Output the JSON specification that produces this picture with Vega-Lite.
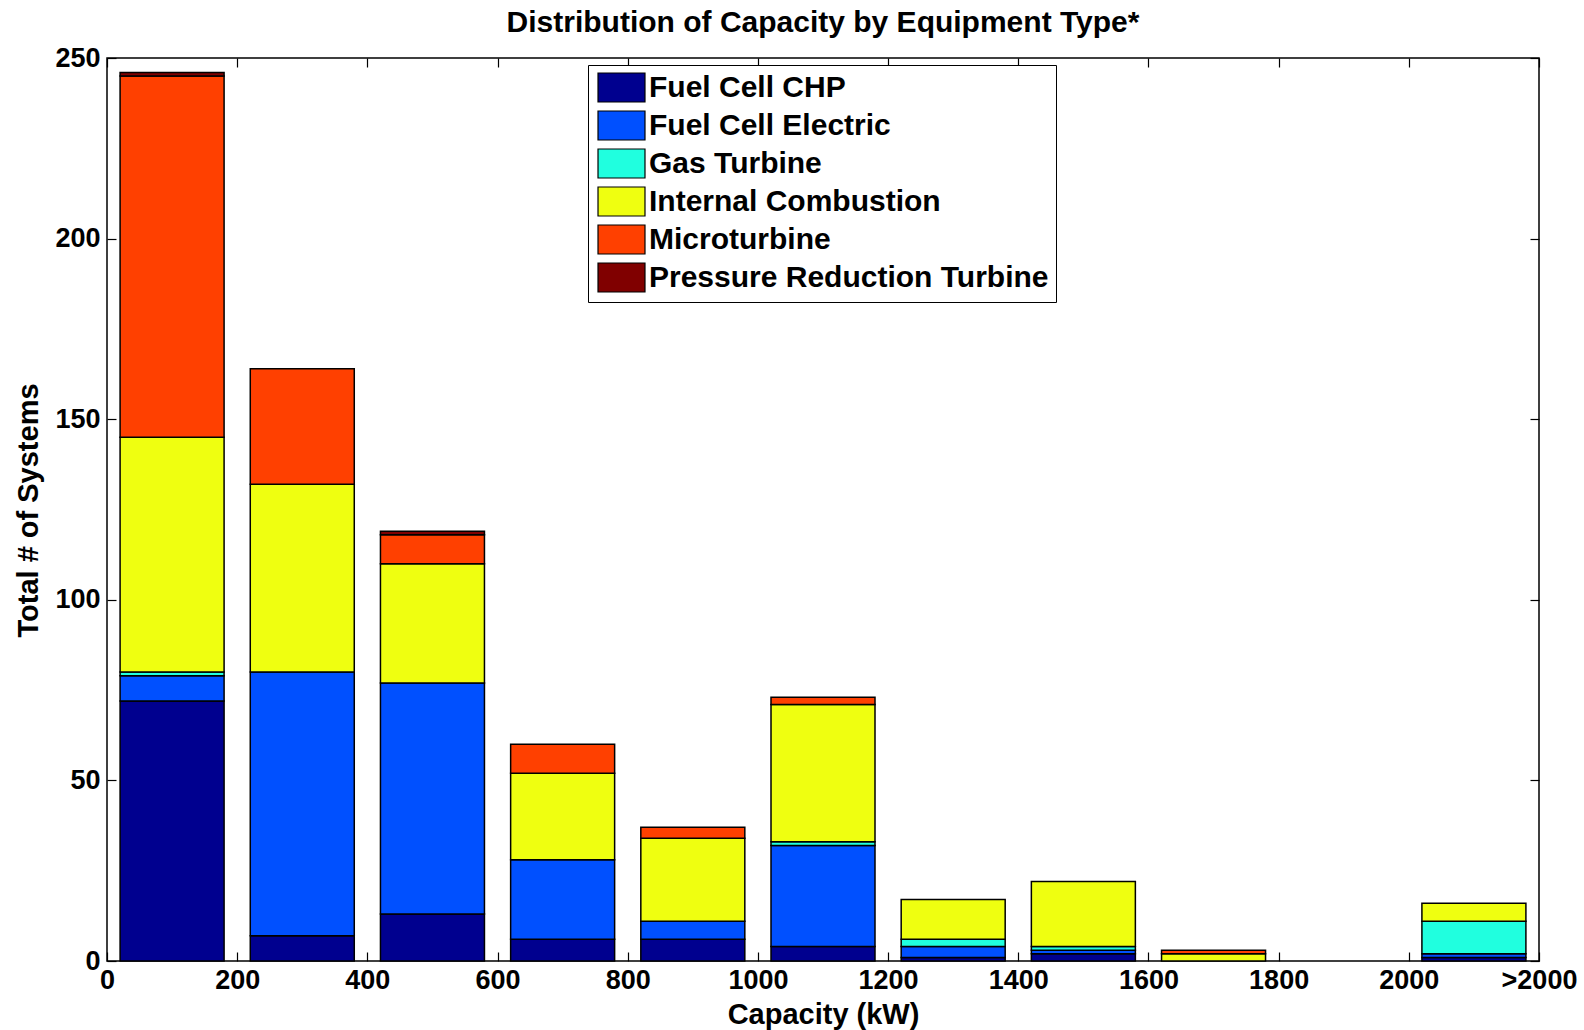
{
  "$schema": "https://vega.github.io/schema/vega-lite/v6.json",
  "width": 1432,
  "height": 903,
  "autosize": {"type": "none"},
  "padding": {"left": 107, "top": 58, "right": 45, "bottom": 69},
  "background": "white",
  "title": {"text": "Distribution of Capacity by Equipment Type*", "anchor": "middle", "offset": -18, "baseline": "alphabetic", "fontSize": 30, "font": "Liberation Sans", "fontWeight": "bold", "color": "black"},
  "config": {
    "view": {"stroke": "black", "strokeWidth": 1.5},
    "axis": {"labelFont": "Liberation Sans", "labelFontWeight": "bold", "labelFontSize": 27, "labelColor": "black", "titleFont": "Liberation Sans", "titleFontWeight": "bold", "titleFontSize": 29, "titleColor": "black", "grid": false, "domain": false, "tickColor": "black", "tickWidth": 1.2, "tickSize": -9}
  },
  "data": {"values": [
    {"center": 100, "type": "Fuel Cell CHP", "count": 72},
    {"center": 100, "type": "Fuel Cell Electric", "count": 7},
    {"center": 100, "type": "Gas Turbine", "count": 1},
    {"center": 100, "type": "Internal Combustion", "count": 65},
    {"center": 100, "type": "Microturbine", "count": 100},
    {"center": 100, "type": "Pressure Reduction Turbine", "count": 1},
    {"center": 300, "type": "Fuel Cell CHP", "count": 7},
    {"center": 300, "type": "Fuel Cell Electric", "count": 73},
    {"center": 300, "type": "Internal Combustion", "count": 52},
    {"center": 300, "type": "Microturbine", "count": 32},
    {"center": 500, "type": "Fuel Cell CHP", "count": 13},
    {"center": 500, "type": "Fuel Cell Electric", "count": 64},
    {"center": 500, "type": "Internal Combustion", "count": 33},
    {"center": 500, "type": "Microturbine", "count": 8},
    {"center": 500, "type": "Pressure Reduction Turbine", "count": 1},
    {"center": 700, "type": "Fuel Cell CHP", "count": 6},
    {"center": 700, "type": "Fuel Cell Electric", "count": 22},
    {"center": 700, "type": "Internal Combustion", "count": 24},
    {"center": 700, "type": "Microturbine", "count": 8},
    {"center": 900, "type": "Fuel Cell CHP", "count": 6},
    {"center": 900, "type": "Fuel Cell Electric", "count": 5},
    {"center": 900, "type": "Internal Combustion", "count": 23},
    {"center": 900, "type": "Microturbine", "count": 3},
    {"center": 1100, "type": "Fuel Cell CHP", "count": 4},
    {"center": 1100, "type": "Fuel Cell Electric", "count": 28},
    {"center": 1100, "type": "Gas Turbine", "count": 1},
    {"center": 1100, "type": "Internal Combustion", "count": 38},
    {"center": 1100, "type": "Microturbine", "count": 2},
    {"center": 1300, "type": "Fuel Cell CHP", "count": 1},
    {"center": 1300, "type": "Fuel Cell Electric", "count": 3},
    {"center": 1300, "type": "Gas Turbine", "count": 2},
    {"center": 1300, "type": "Internal Combustion", "count": 11},
    {"center": 1500, "type": "Fuel Cell CHP", "count": 2},
    {"center": 1500, "type": "Fuel Cell Electric", "count": 1},
    {"center": 1500, "type": "Gas Turbine", "count": 1},
    {"center": 1500, "type": "Internal Combustion", "count": 18},
    {"center": 1700, "type": "Internal Combustion", "count": 2},
    {"center": 1700, "type": "Microturbine", "count": 1},
    {"center": 2100, "type": "Fuel Cell CHP", "count": 1},
    {"center": 2100, "type": "Fuel Cell Electric", "count": 1},
    {"center": 2100, "type": "Gas Turbine", "count": 9},
    {"center": 2100, "type": "Internal Combustion", "count": 5}
  ]},
  "layer": [
    {
      "mark": {"type": "bar", "orient": "vertical", "size": 104, "stroke": "black", "strokeWidth": 1.5},
      "encoding": {
        "x": {"field": "center", "type": "quantitative", "scale": {"domain": [0, 2200], "nice": false, "zero": false, "padding": 0},
          "axis": {"orient": "bottom", "values": [0, 200, 400, 600, 800, 1000, 1200, 1400, 1600, 1800, 2000, 2200], "format": "d", "labelExpr": "datum.value == 2200 ? '>2000' : datum.label", "labelPadding": 15, "labelFlush": false, "labelOverlap": false, "title": "Capacity (kW)", "titleX": 716, "titleY": 53, "titleBaseline": "middle"}},
        "y": {"field": "count", "type": "quantitative", "stack": "zero", "scale": {"domain": [0, 250], "nice": false, "padding": 0},
          "axis": {"orient": "left", "values": [0, 50, 100, 150, 200, 250], "labelPadding": 16, "title": "Total # of Systems", "titleX": -79, "titleY": 452, "titleAngle": -90, "titleBaseline": "middle", "titleAlign": "center"}},
        "order": {"field": "type", "type": "nominal", "sort": "ascending"},
        "color": {"field": "type", "type": "nominal",
          "scale": {"domain": ["Fuel Cell CHP", "Fuel Cell Electric", "Gas Turbine", "Internal Combustion", "Microturbine", "Pressure Reduction Turbine"], "range": ["#00008F", "#0050FF", "#20FFDF", "#EFFF10", "#FF4000", "#800000"]},
          "legend": {"title": null, "orient": "none", "legendX": 481, "legendY": 7, "padding": 7, "fillColor": "white", "strokeColor": "black", "symbolType": "M-1.62,-1H1.62V1H-1.62Z", "symbolSize": 841, "symbolOffset": 11, "symbolStrokeColor": "black", "symbolStrokeWidth": 1.2, "symbolOpacity": 1, "labelFont": "Liberation Sans", "labelFontWeight": "bold", "labelFontSize": 30, "labelColor": "black", "labelOffset": 12, "labelLimit": 1000, "rowPadding": 3}}
      }
    },
    {
      "mark": {"type": "point", "opacity": 0},
      "encoding": {
        "x": {"field": "center", "type": "quantitative", "scale": {"domain": [0, 2200], "nice": false, "zero": false, "padding": 0},
          "axis": {"orient": "top", "values": [0, 200, 400, 600, 800, 1000, 1200, 1400, 1600, 1800, 2000, 2200], "labels": false, "title": null}},
        "y": {"field": "count", "type": "quantitative", "stack": null, "scale": {"domain": [0, 250], "nice": false, "padding": 0},
          "axis": {"orient": "right", "values": [0, 50, 100, 150, 200, 250], "labels": false, "title": null}}
      }
    }
  ],
  "resolve": {"axis": {"x": "independent", "y": "independent"}}
}
